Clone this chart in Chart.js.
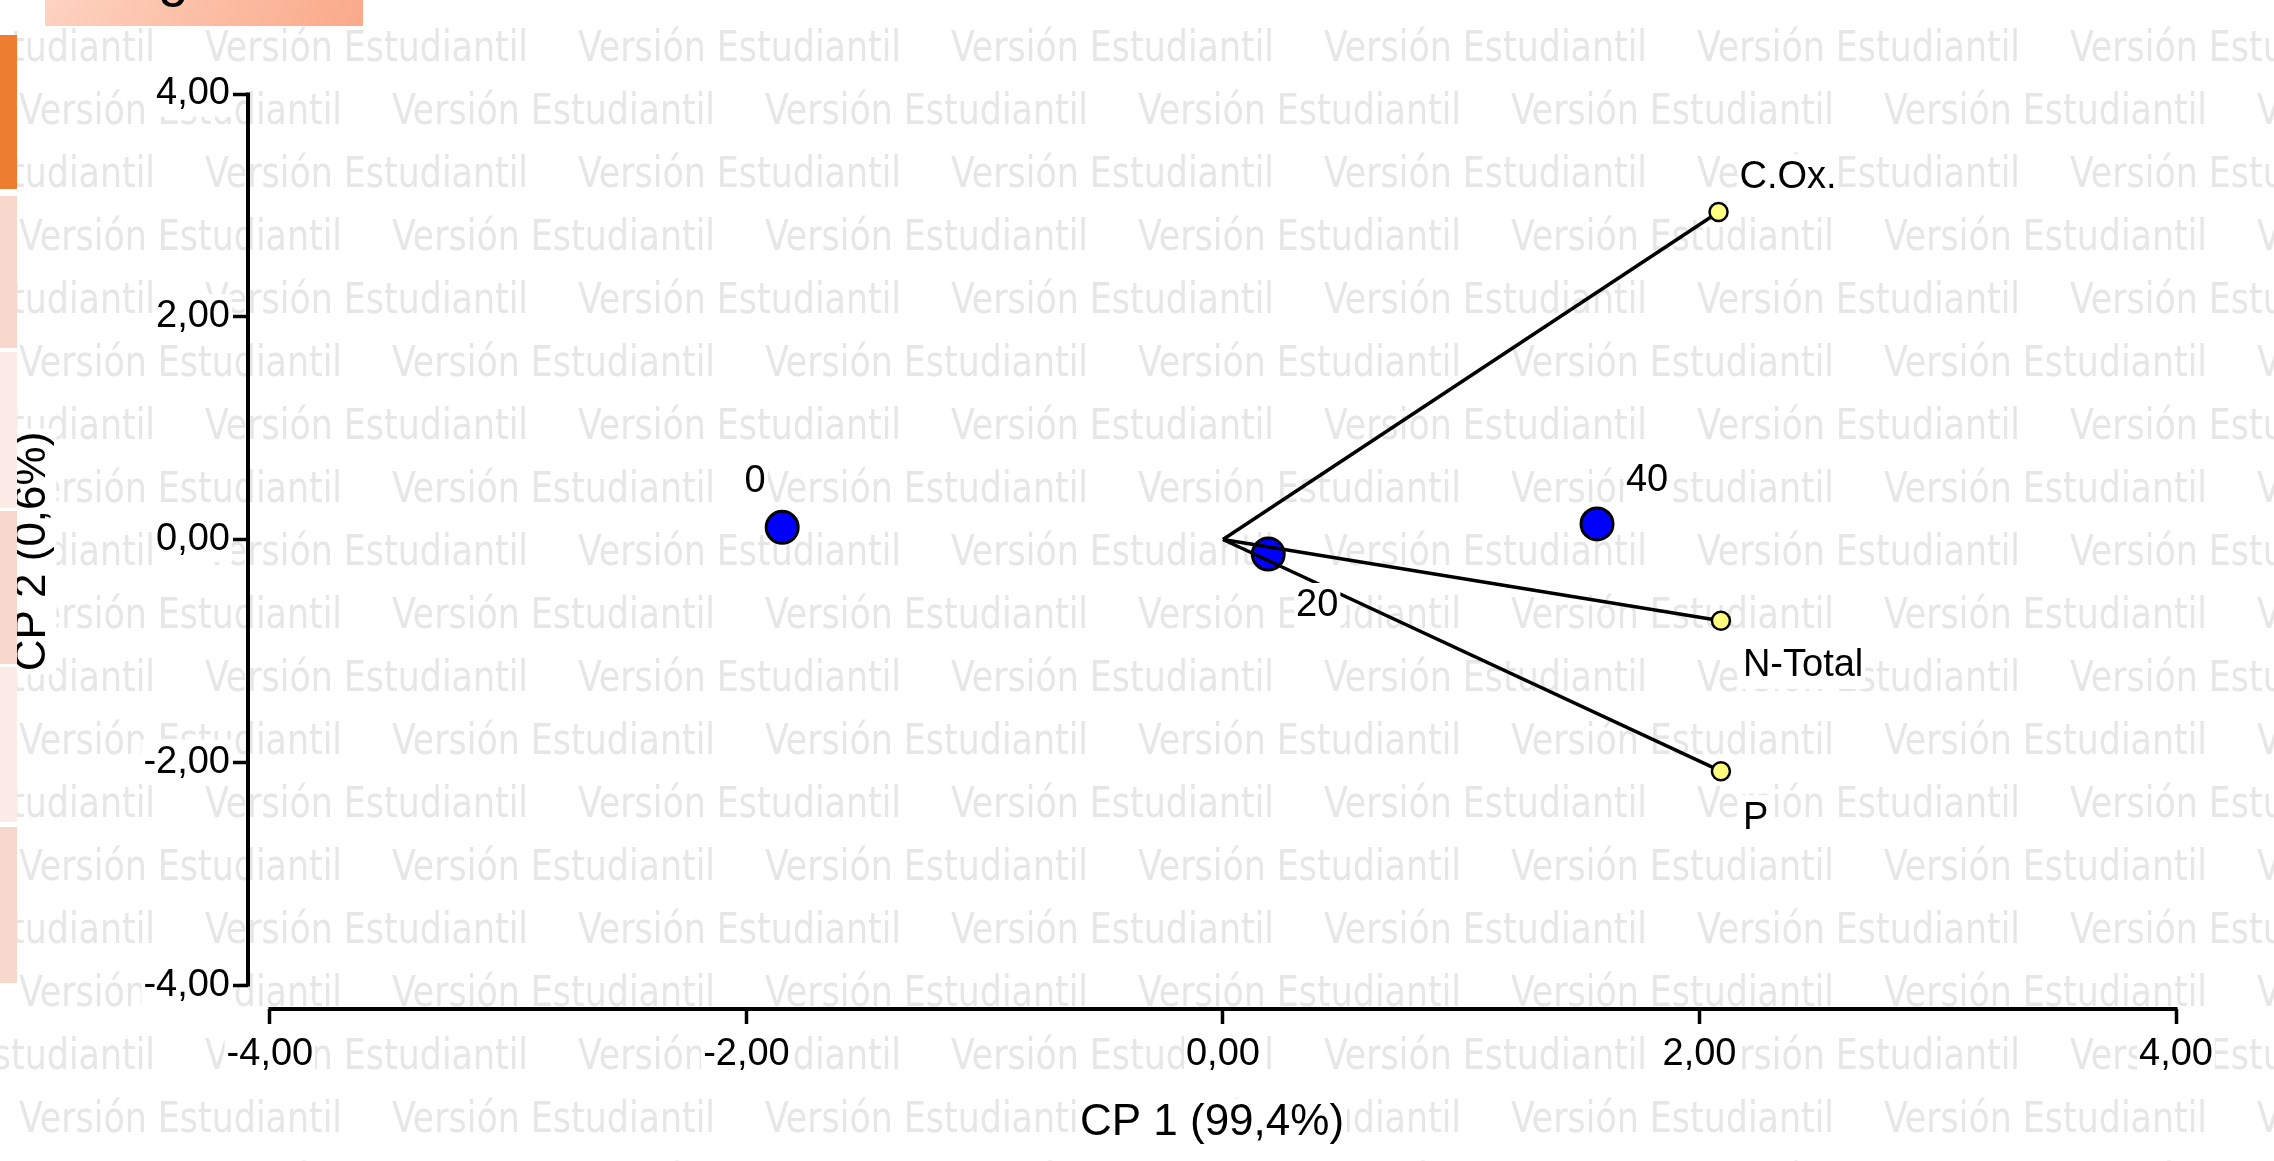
<!DOCTYPE html>
<html>
<head>
<meta charset="utf-8">
<title>CP 1 vs CP 2</title>
<script src="https://cdn.jsdelivr.net/npm/chart.js@4.4.1/dist/chart.umd.min.js"></script>
<style>
    html, body { margin: 0; padding: 0; background: #fff; }
    .wrap { position: relative; width: 2274px; height: 1161px; overflow: hidden; }
    #biplot { position: absolute; left: 0; top: 0; }
    .tab {
        position: absolute; left: 45px; top: 0; width: 318px; height: 26px; overflow: hidden;
        background: linear-gradient(120deg, #fdd3c1, #faa988);
    }
    .tab span {
        position: absolute; left: 113px; top: -51px; font: 55px/55px "Liberation Sans", Arial, sans-serif; color: #000;
    }
    .strip { position: absolute; left: 0; width: 17px; }
</style>
</head>
<body>
<div class="wrap">
    <canvas id="biplot" width="2274" height="1161"></canvas>
    <div class="tab"><span>g</span></div>
    <div class="strip" style="top:35px;height:154px;background:#ed7d31"></div>
    <div class="strip" style="top:196px;height:152px;background:#f8d8cc"></div>
    <div class="strip" style="top:352px;height:156px;background:#fcebe6"></div>
    <div class="strip" style="top:511px;height:153px;background:#f8d8cc"></div>
    <div class="strip" style="top:667px;height:155px;background:#fcebe6"></div>
    <div class="strip" style="top:827px;height:156px;background:#f8d8cc"></div>
</div>
<script>
// ==========================================
// Data
// ==========================================
const sampleLabels = ['0', '20', '40'];
const sampleCP1 = [-1.85, 0.19, 1.57];
const sampleCP2 = [0.11, -0.13, 0.14];

const varLabels = ['C.Ox.', 'N-Total', 'P'];
const varCP1 = [2.08, 2.09, 2.09];
const varCP2 = [2.94, -0.73, -2.08];

const tickValues = [-4, -2, 0, 2, 4];
const tickLabels = ['-4,00', '-2,00', '0,00', '2,00', '4,00'];

const xTitle = 'CP 1 (99,4%)';
const yTitle = 'CP 2 (0,6%)';

// label placement, in pixels from the point
const sampleLabelOffsets = [[-27, -46], [49, 52], [50, -43]];
const varLabelOffsets = [[21, -35], [22, 45], [22, 47]];

const FONT = '"Liberation Sans", Arial, sans-serif';
const WATERMARK = 'Versión Estudiantil';

// ==========================================
// Plugins
// ==========================================
const backgroundPlugin = {
    id: 'background',
    beforeDraw(chart) {
        const ctx = chart.ctx;
        ctx.save();
        ctx.fillStyle = '#fff';
        ctx.fillRect(0, 0, chart.width, chart.height);

        // watermark rows
        ctx.font = '43px "DejaVu Sans Condensed", "DejaVu Sans", sans-serif';
        ctx.fillStyle = '#e6e6e6';
        ctx.textBaseline = 'alphabetic';
        const sx = 323 / ctx.measureText(WATERMARK).width;
        for (let r = 0; r < 19; r++) {
            const base = 61 + r * 63;
            const start = (r % 2 === 0) ? 205 : 19;
            for (let x = start - 373; x < chart.width; x += 373) {
                ctx.save();
                ctx.translate(x, base);
                ctx.scale(sx, 1);
                ctx.fillText(WATERMARK, 0, 0);
                ctx.restore();
            }
        }

        // white boxes behind the axis titles
        const xs = chart.scales.x, ys = chart.scales.y;
        ctx.font = '44px ' + FONT;
        const lh = 52.8;
        const xw = ctx.measureText(xTitle).width;
        const xty = xs.bottom - lh / 2 - 12;
        const xtx = (xs.left + xs.right) / 2;
        ctx.fillStyle = '#fff';
        ctx.fillRect(xtx - xw / 2 - 3, xty - 24, xw + 6, 48);
        const yw = ctx.measureText(yTitle).width;
        const ytx = ys.left + lh / 2 + 6;
        const yty = (ys.top + ys.bottom) / 2;
        ctx.fillRect(ytx - 24, yty - yw / 2 - 3, 48, yw + 6);
        ctx.restore();
    },
    beforeDatasetsDraw(chart) {
        // axis lines only between -4 and 4, set apart from each other
        const {ctx, scales: {x, y}} = chart;
        ctx.save();
        ctx.strokeStyle = '#000';
        ctx.lineWidth = 4;
        ctx.beginPath();
        ctx.moveTo(x.getPixelForValue(-4) - 1.5, chart.chartArea.bottom);
        ctx.lineTo(x.getPixelForValue(4) + 1.5, chart.chartArea.bottom);
        ctx.moveTo(chart.chartArea.left, y.getPixelForValue(4) - 1.5);
        ctx.lineTo(chart.chartArea.left, y.getPixelForValue(-4) + 1.5);
        ctx.stroke();
        ctx.restore();
    },
    afterDatasetsDraw(chart) {
        const {ctx, scales: {x, y}} = chart;
        ctx.save();
        ctx.font = '38px ' + FONT;
        ctx.textBaseline = 'middle';

        function label(text, px, py, align) {
            const w = ctx.measureText(text).width;
            const left = align === 'left' ? px : px - w / 2;
            ctx.fillStyle = '#fff';
            ctx.fillRect(left - 2, py - 23, w + 4, 46);
            ctx.fillStyle = '#000';
            ctx.textAlign = 'left';
            ctx.fillText(text, left, py);
        }

        sampleLabels.forEach((t, i) => {
            const px = x.getPixelForValue(sampleCP1[i]) + sampleLabelOffsets[i][0];
            const py = y.getPixelForValue(sampleCP2[i]) + sampleLabelOffsets[i][1];
            label(t, px, py, 'center');
        });
        varLabels.forEach((t, i) => {
            const px = x.getPixelForValue(varCP1[i]) + varLabelOffsets[i][0];
            const py = y.getPixelForValue(varCP2[i]) + varLabelOffsets[i][1];
            label(t, px, py, 'left');
        });
        ctx.restore();
    }
};

// ==========================================
// Chart
// ==========================================
const vectorDatasets = varLabels.map((name, i) => ({
    label: name,
    data: [{x: 0, y: 0}, {x: varCP1[i], y: varCP2[i]}],
    showLine: true,
    borderColor: '#000',
    borderWidth: 3.5,
    pointRadius: [0, 9],
    pointBackgroundColor: '#ffff80',
    pointBorderColor: '#000',
    pointBorderWidth: 2.5,
    order: 1
}));

const sampleDataset = {
    label: 'Muestras',
    data: sampleCP1.map((v, i) => ({x: v, y: sampleCP2[i]})),
    pointRadius: 16,
    pointBackgroundColor: '#0000ff',
    pointBorderColor: '#000',
    pointBorderWidth: 3,
    order: 2
};

function axisTicks(scale) {
    scale.ticks = tickValues.map(v => ({value: v}));
}

function tickText(value) {
    const i = tickValues.indexOf(value);
    return i >= 0 ? tickLabels[i] : '';
}

const tickStyle = {
    color: '#000',
    font: {family: FONT, size: 38},
    showLabelBackdrop: true,
    backdropColor: '#fff',
    backdropPadding: {top: 0, bottom: 0, left: 2, right: 2},
    callback: tickText
};

const gridStyle = {
    drawOnChartArea: false,
    drawTicks: true,
    tickLength: 15,
    tickWidth: 3.5,
    tickColor: '#000'
};

new Chart(document.getElementById('biplot'), {
    type: 'scatter',
    data: {datasets: [...vectorDatasets, sampleDataset]},
    options: {
        responsive: false,
        animation: false,
        devicePixelRatio: 1,
        layout: {padding: {top: 94, right: 98, left: 0, bottom: 0}},
        plugins: {
            legend: {display: false},
            tooltip: {enabled: false}
        },
        scales: {
            x: {
                type: 'linear',
                min: -4.092,
                max: 4,
                afterBuildTicks: axisTicks,
                afterFit(scale) { scale.height = 152; },
                grid: gridStyle,
                border: {display: false},
                ticks: Object.assign({}, tickStyle, {padding: 8, maxRotation: 0, autoSkip: false}),
                title: {
                    display: true,
                    text: xTitle,
                    color: '#000',
                    font: {family: FONT, size: 44},
                    padding: {top: 0, bottom: 12}
                }
            },
            y: {
                type: 'linear',
                min: -4.215,
                max: 4,
                afterBuildTicks: axisTicks,
                afterFit(scale) { scale.width = 248; },
                grid: gridStyle,
                border: {display: false},
                ticks: Object.assign({}, tickStyle, {padding: 3, autoSkip: false}),
                title: {
                    display: true,
                    text: yTitle,
                    color: '#000',
                    font: {family: FONT, size: 44},
                    padding: {top: 6, bottom: 0}
                }
            }
        }
    },
    plugins: [backgroundPlugin]
});
</script>
</body>
</html>
